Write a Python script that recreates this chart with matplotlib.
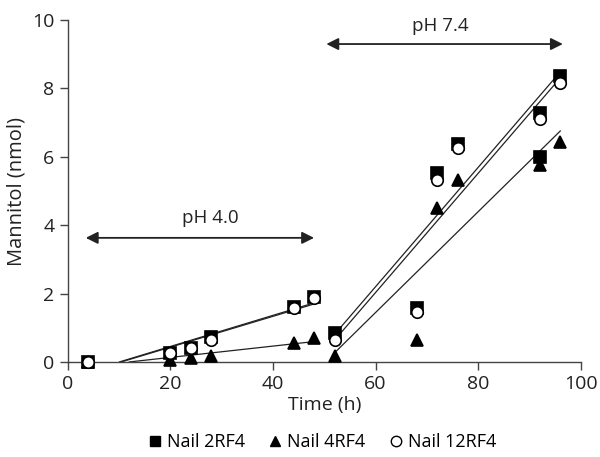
import numpy as np
import matplotlib
matplotlib.use("Agg")
import matplotlib.pyplot as plt

plt.rcParams["font.family"] = ["Open Sans", "DejaVu Sans"]

# ── Data ─────────────────────────────────────────────────────────────────────
t_acid = [4, 20, 24, 28, 44, 48]          # pH 4.0 phase (h)
t_neutral = [52, 68, 72, 76, 92, 96]      # pH 7.4 phase (h)

nail2_acid = [0.0, 0.25, 0.42, 0.74, 1.60, 1.89]
nail4_acid = [0.0, 0.05, 0.12, 0.18, 0.55, 0.69]
nail12_acid = [0.0, 0.26, 0.40, 0.64, 1.58, 1.88]

nail2_neutral = [0.84, 1.57, 5.52, 6.39, 7.29, 8.36]
nail4_neutral = [0.18, 0.64, 4.50, 5.32, 5.76, 6.44]
nail12_neutral = [0.64, 1.45, 5.32, 6.25, 7.10, 8.17]

# stray square plotted at 92 h in the original figure
nail2_extra_t = [92]
nail2_extra_y = [6.0]

series = [
    ("Nail 2RF4", nail2_acid, nail2_neutral, dict(marker="s", mfc="black", mec="black")),
    ("Nail 4RF4", nail4_acid, nail4_neutral, dict(marker="^", mfc="black", mec="black")),
    ("Nail 12RF4", nail12_acid, nail12_neutral, dict(marker="o", mfc="white", mec="black")),
]

fig = plt.figure(figsize=(6, 4.57), dpi=100)
ax = fig.add_axes([0.113, 0.208, 0.855, 0.748])


def fit_line(t, y, clip_zero):
    slope, icpt = np.polyfit(t, y, 1)
    start = t[0]
    if clip_zero:
        start = max(start, -icpt / slope)
    xs = np.array([start, t[-1]])
    return xs, slope * xs + icpt


# regression lines
for name, acid, neutral, style in series:
    xs, ys = fit_line(t_acid, acid, True)
    ax.plot(xs, ys, color="#222222", lw=0.9, zorder=2)
    xs, ys = fit_line(t_neutral, neutral, False)
    ax.plot(xs, ys, color="#222222", lw=0.9, zorder=2)

# markers
handles = []
for i, (name, acid, neutral, style) in enumerate(series):
    h, = ax.plot(t_acid + t_neutral, acid + neutral, ls="none", ms=8.3, mew=1.2,
                 zorder=3 + i, label=name, clip_on=False, **style)
    handles.append(h)
    if name == "Nail 2RF4":
        ax.plot(nail2_extra_t, nail2_extra_y, ls="none", ms=8.3, mew=1.2, zorder=3, **style)

# pH arrows
arrow = dict(arrowstyle="<|-|>", color="#222222", lw=1.3, mutation_scale=18,
             shrinkA=0, shrinkB=0)
ax.annotate("", xy=(3.5, 3.63), xytext=(48, 3.63), arrowprops=arrow)
ax.annotate("", xy=(50.4, 9.3), xytext=(96.5, 9.3), arrowprops=arrow)
ax.text(27.7, 3.95, "pH 4.0", ha="center", va="bottom", fontsize=13.5, color="#222222")
ax.text(72.7, 9.55, "pH 7.4", ha="center", va="bottom", fontsize=13.5, color="#222222")

ax.set_xlim(0, 100)
ax.set_ylim(0, 10)
ax.set_xticks(range(0, 101, 20))
ax.set_yticks(range(0, 11, 2))
for side in ("top", "right"):
    ax.spines[side].set_visible(False)
for side in ("left", "bottom"):
    ax.spines[side].set_color("#444444")
    ax.spines[side].set_linewidth(1.0)
ax.tick_params(direction="out", length=6, width=1.0, color="#444444",
               labelsize=14, labelcolor="#222222")
ax.set_xlabel("Time (h)", fontsize=14, color="#222222", labelpad=2)
ax.set_ylabel("Mannitol (nmol)", fontsize=14.5, color="#222222", labelpad=4)

leg_handles = []
for h, (name, acid, neutral, style) in zip(handles, series):
    lh, = plt.plot([], [], ls="none", ms=7.5, mew=1.0, **style)
    leg_handles.append(lh)
fig.legend(leg_handles, [s[0] for s in series], loc="center", ncol=3,
           bbox_to_anchor=(0.535, 0.033), frameon=False, fontsize=13,
           handletextpad=0.15, columnspacing=1.2, handlelength=1.0)

fig.savefig("out.png", dpi=100)
